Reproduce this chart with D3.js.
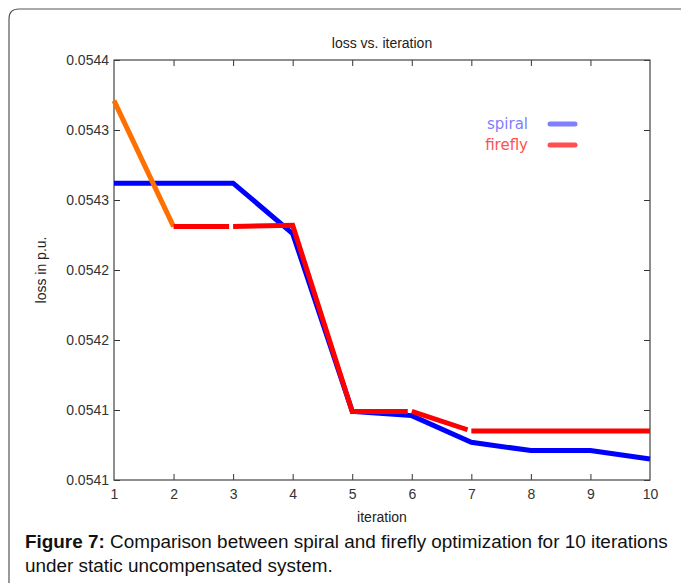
<!DOCTYPE html>
<html>
<head>
<meta charset="utf-8">
<script src="https://cdn.jsdelivr.net/npm/d3@7"></script>
<style>
  body { margin: 0; background: #fff; }
  svg { display: block; }
</style>
</head>
<body>
<svg id="chart" width="681" height="583"></svg>
<script>
// data
const iterations = [1, 2, 3, 4, 5, 6, 7, 8, 9, 10];
const spiral = [0.054312, 0.054312, 0.054312, 0.054276, 0.054149, 0.054146, 0.054127, 0.054121, 0.054121, 0.054115];
const firefly = [0.054371, 0.054281, 0.054281, 0.054282, 0.054149, 0.054149, 0.054135, 0.054135, 0.054135, 0.054135];
// pieces of the firefly line (index ranges), first one drawn orange
const fireflyPieces = [[0, 1], [1, 2], [2, 5], [5, 6], [6, 9]];
const yTicks = [0.05410, 0.05415, 0.05420, 0.05425, 0.05430, 0.05435, 0.05440];
const yTickLabels = ['0.0541', '0.0541', '0.0542', '0.0542', '0.0543', '0.0543', '0.0544'];

const svg = d3.select('#chart');
const margin = {left: 114, top: 60, right: 31, bottom: 103};
const width = 681 - margin.left - margin.right;
const height = 583 - margin.top - margin.bottom;
const narrow = '"Liberation Sans Narrow", "Liberation Sans", Arial, sans-serif';

// outer figure box (right side runs off the page)
svg.append('path')
    .attr('d', 'M9,583 L9,19 Q9,9 19,9 L690,9')
    .attr('fill', 'none')
    .attr('stroke', '#555')
    .attr('stroke-width', 1.2);

const x = d3.scaleLinear().domain([1, 10]).range([0, width]);
const y = d3.scaleLinear().domain([0.05410, 0.05440]).range([height, 0]);

const g = svg.append('g').attr('transform', `translate(${margin.left},${margin.top})`);

// axes, ticks pointing inward on all four sides
const axisStyle = sel => {
  sel.select('.domain').remove();
  sel.selectAll('.tick line').attr('stroke', '#333');
  sel.selectAll('.tick text').attr('fill', '#333')
      .style('font-family', narrow).style('font-size', '14px');
};
g.append('g').attr('transform', `translate(0,${height})`)
    .call(d3.axisBottom(x).tickValues(iterations).tickSize(-6).tickPadding(9).tickFormat(d3.format('d')))
    .call(axisStyle);
g.append('g')
    .call(d3.axisTop(x).tickValues(iterations).tickSize(-6).tickFormat(''))
    .call(axisStyle);
g.append('g')
    .call(d3.axisLeft(y).tickValues(yTicks).tickSize(-6).tickPadding(5)
        .tickFormat((d, i) => yTickLabels[i]))
    .call(axisStyle);
g.append('g').attr('transform', `translate(${width},0)`)
    .call(d3.axisRight(y).tickValues(yTicks).tickSize(-6).tickFormat(''))
    .call(axisStyle);
g.selectAll('.tick').filter(d => d === 1 || d === 10).selectAll('line').remove();
g.append('rect')
    .attr('width', width).attr('height', height)
    .attr('fill', 'none').attr('stroke', '#444').attr('stroke-width', 1.2);

// spiral line
const line = d3.line().x(d => x(d[0])).y(d => y(d[1]));
g.append('path')
    .datum(iterations.map((it, i) => [it, spiral[i]]))
    .attr('d', line)
    .attr('fill', 'none').attr('stroke', '#0000ff').attr('stroke-width', 5);

// firefly line, drawn in pieces with small breaks between them
fireflyPieces.forEach(([a, b], k) => {
  const pts = d3.range(a, b + 1).map(i => [iterations[i], firefly[i]]);
  let px = pts.map(p => [x(p[0]), y(p[1])]);
  if (k > 0 && k < fireflyPieces.length - 1) {
    const n = px.length - 1;
    const dx = px[n][0] - px[n - 1][0], dy = px[n][1] - px[n - 1][1];
    const len = Math.hypot(dx, dy);
    px[n] = [px[n][0] - 4 * dx / len, px[n][1] - 4 * dy / len];
  }
  g.append('path')
      .attr('d', d3.line()(px))
      .attr('fill', 'none')
      .attr('stroke', k === 0 ? '#ff7000' : '#ff0000')
      .attr('stroke-width', 5);
});

// legend
const legend = [['spiral', '#8080ff'], ['firefly', '#ff5050']];
legend.forEach(([name, col], i) => {
  svg.append('text')
      .attr('x', 528).attr('y', 129 + i * 21)
      .attr('text-anchor', 'end')
      .attr('fill', col)
      .style('font-family', '"DejaVu Sans", sans-serif').style('font-size', '15px')
      .text(name);
  svg.append('line')
      .attr('x1', 550).attr('x2', 575)
      .attr('y1', 124 + i * 21).attr('y2', 124 + i * 21)
      .attr('stroke', col).attr('stroke-width', 5).attr('stroke-linecap', 'round');
});

// titles
svg.append('text')
    .attr('x', margin.left + width / 2).attr('y', 48)
    .attr('text-anchor', 'middle').attr('fill', '#222')
    .style('font-family', narrow).style('font-size', '14px')
    .text('loss vs. iteration');
svg.append('text')
    .attr('x', margin.left + width / 2).attr('y', 522)
    .attr('text-anchor', 'middle').attr('fill', '#222')
    .style('font-family', narrow).style('font-size', '14px')
    .text('iteration');
svg.append('text')
    .attr('transform', `translate(46,${margin.top + height / 2}) rotate(-90)`)
    .attr('text-anchor', 'middle').attr('fill', '#222')
    .style('font-family', narrow).style('font-size', '14px')
    .text('loss in p.u.');

// caption
const cap = svg.append('text')
    .attr('x', 25).attr('y', 548)
    .attr('fill', '#111')
    .style('font-family', '"Liberation Sans", Arial, sans-serif').style('font-size', '18.9px');
cap.append('tspan').style('font-weight', 'bold').text('Figure 7:');
cap.append('tspan').text(' Comparison between spiral and firefly optimization for 10 iterations');
svg.append('text')
    .attr('x', 25).attr('y', 572)
    .attr('fill', '#111')
    .style('font-family', '"Liberation Sans", Arial, sans-serif').style('font-size', '18.9px')
    .text('under static uncompensated system.');
</script>
</body>
</html>
